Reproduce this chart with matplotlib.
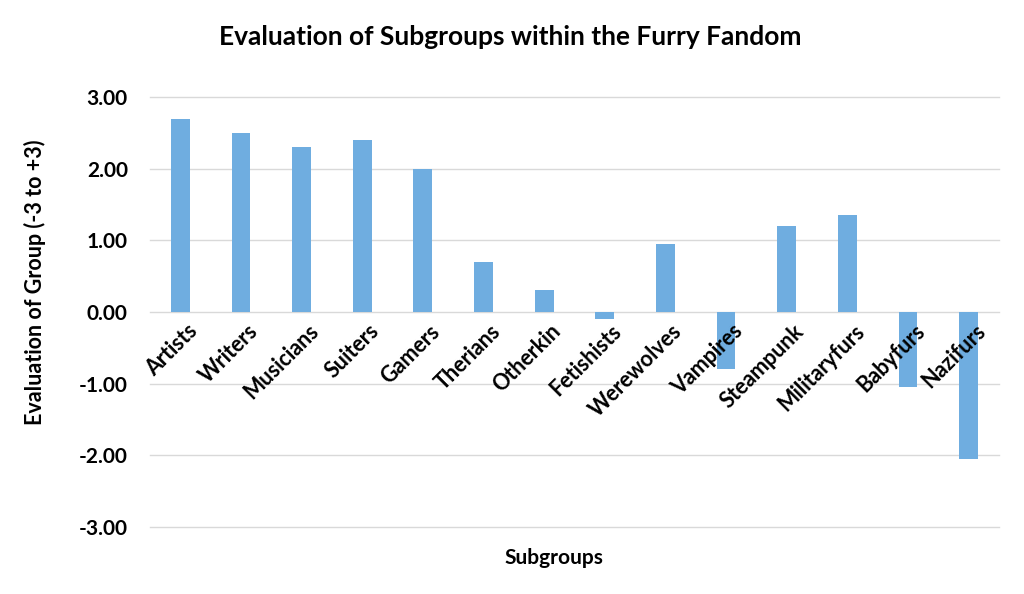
import matplotlib.pyplot as plt
import numpy as np

subgroups = ["Artists", "Writers", "Musicians", "Suiters", "Gamers", "Therians",
             "Otherkin", "Fetishists", "Werewolves", "Vampires", "Steampunk",
             "Militaryfurs", "Babyfurs", "Nazifurs"]
evaluation = [2.70, 2.50, 2.30, 2.40, 2.00, 0.70, 0.30, -0.10, 0.95, -0.80,
              1.20, 1.35, -1.05, -2.05]
yticks = [-3, -2, -1, 0, 1, 2, 3]

plt.rcParams["font.family"] = ["Lato", "DejaVu Sans"]

fig = plt.figure(figsize=(10.24, 5.94), dpi=100)
ax = fig.add_axes([0.1465, 0.1128, 0.829, 0.7239])

x = np.arange(len(subgroups))
ax.bar(x, evaluation, width=0.31, color="#6fade0", zorder=3)

ax.set_xlim(-0.5, len(subgroups) - 0.5)
ax.set_ylim(-3, 3)
ax.set_yticks(yticks)
ax.set_yticklabels([f"{v:.2f}" for v in yticks], fontsize=15, fontweight="bold")
ax.tick_params(axis="y", length=0, pad=16)
ax.set_xticks([])
ax.grid(axis="y", color="#d9d9d9", linewidth=1, zorder=0)
for line in ax.yaxis.get_gridlines():
    line.set_clip_on(False)
for s in ax.spines.values():
    s.set_visible(False)

# category labels sit along the zero line
for i, name in enumerate(subgroups):
    ax.text(i + 0.1, -0.12, name, rotation=45, rotation_mode="anchor",
            ha="right", va="top", fontsize=15.5, fontweight="bold")

fig.text(0.498, 0.938, "Evaluation of Subgroups within the Furry Fandom",
         ha="center", va="center", fontsize=19, fontweight="bold")
ax.set_ylabel("Evaluation of Group (-3 to +3)", fontsize=15.5, fontweight="bold",
              va="center")
ax.yaxis.set_label_coords(-0.1355, 0.57)
ax.set_xlabel("Subgroups", fontsize=15, fontweight="bold", va="center")
ax.xaxis.set_label_coords(0.476, -0.072)

fig.savefig("out.png", dpi=100, facecolor="white")
